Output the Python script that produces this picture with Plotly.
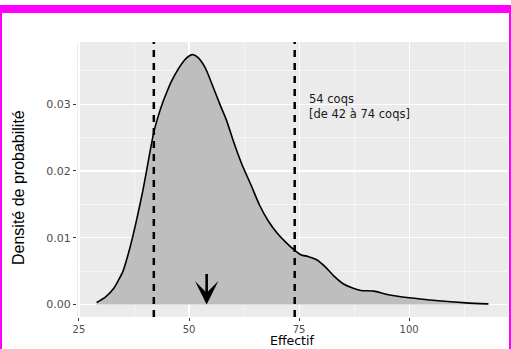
import plotly.graph_objects as go

# Density estimate
effectif = [29, 31, 33, 35, 36.5, 38, 39.5, 41, 42, 43, 44, 45, 46, 47.5, 49, 50, 51,
            52, 53, 54, 55.5, 57, 58.5, 60, 62, 64, 66, 68, 70, 72, 74, 75.5, 77, 79,
            81, 83, 85, 87, 89, 92, 95, 100, 106, 113, 118]
densite = [0.0003, 0.0011, 0.0025, 0.0050, 0.0083, 0.0124, 0.0170, 0.0224, 0.0258,
           0.0282, 0.0302, 0.0319, 0.0334, 0.0352, 0.0366, 0.0372, 0.0374, 0.0370,
           0.0362, 0.0350, 0.0325, 0.0300, 0.0276, 0.0246, 0.0210, 0.0180, 0.0149,
           0.0125, 0.0107, 0.0093, 0.0081, 0.0074, 0.0072, 0.0067, 0.0056, 0.0042,
           0.0031, 0.0025, 0.0021, 0.0020, 0.0015, 0.0010, 0.0006, 0.00025, 0.0001]

estimate = 54
ci_low = 42
ci_high = 74
x_ticks = [25, 50, 75, 100]
y_ticks = [0.00, 0.01, 0.02, 0.03]
y_tick_labels = ["0.00", "0.01", "0.02", "0.03"]
label_lines = ["54 coqs", "[de 42 à 74 coqs]"]
arrow_top = 0.0048

W, H = 511, 349
ml, mr, mt, mb = 77, 3, 42, 32
pw, ph = W - ml - mr, H - mt - mb


def px(xp):
    return (xp - ml) / pw


def py(yp):
    return (H - mb - yp) / ph


fig = go.Figure()
fig.add_trace(go.Scatter(
    x=effectif, y=densite, mode="lines",
    line=dict(color="black", width=1.6, shape="spline", smoothing=0.5),
    fill="tozeroy", fillcolor="#BEBEBE", hoverinfo="skip", showlegend=False))

for v in (ci_low, ci_high):
    fig.add_shape(type="line", xref="x", yref="paper", x0=v, x1=v, y0=0, y1=1,
                  line=dict(color="black", width=2.5, dash="7px,6px"), layer="above")

fig.add_annotation(x=estimate, y=0, ax=estimate, ay=arrow_top, xref="x", yref="y",
                   axref="x", ayref="y", showarrow=True, arrowhead=3, arrowsize=1.5,
                   arrowwidth=2.6, arrowcolor="black", standoff=0, text="")

fig.add_annotation(x=76.8, y=0.0296, xref="x", yref="y", xanchor="left",
                   yanchor="middle", align="left", showarrow=False,
                   text="<br>".join(label_lines),
                   font=dict(family="DejaVu Sans", size=11.5, color="#1a1a1a"))

# axis titles
fig.add_annotation(x=px(292), y=py(349), xref="paper", yref="paper", showarrow=False,
                   xanchor="center", yanchor="bottom", text="Effectif", borderpad=0,
                   font=dict(family="DejaVu Sans", size=12.5, color="black"))
fig.add_annotation(x=px(18), y=py(188), xref="paper", yref="paper", showarrow=False,
                   xanchor="center", yanchor="middle", text="Densité de probabilité",
                   textangle=-90,
                   font=dict(family="Liberation Sans Narrow, Liberation Sans, Arial",
                             size=16, color="black"))

# magenta frame
fig.add_shape(type="rect", xref="paper", yref="paper", x0=px(0), x1=px(W), y0=py(13), y1=py(5),
              fillcolor="#FF00FF", line=dict(width=0), layer="above")
fig.add_shape(type="rect", xref="paper", yref="paper", x0=px(0), x1=px(2), y0=py(H), y1=py(5),
              fillcolor="#FF00FF", line=dict(width=0), layer="above")
fig.add_shape(type="rect", xref="paper", yref="paper", x0=px(509), x1=px(W), y0=py(H), y1=py(5),
              fillcolor="#FF00FF", line=dict(width=0), layer="above")

fig.update_layout(
    width=W, height=H, margin=dict(l=ml, r=mr, t=mt, b=mb, autoexpand=False),
    paper_bgcolor="white", plot_bgcolor="#EBEBEB", showlegend=False,
    font=dict(family="DejaVu Sans", color="#4D4D4D"),
    xaxis=dict(range=[24.55, 122.45], tickvals=x_ticks, ticks="outside", ticklen=3,
               tickcolor="#333333", tickwidth=1, showgrid=True, gridcolor="white",
               gridwidth=1.2, zeroline=False, showline=False, automargin=False,
               ticklabelstandoff=0,
               tickfont=dict(family="DejaVu Sans", size=10, color="#4D4D4D"),
               minor=dict(dtick=12.5, tick0=25, showgrid=True, gridcolor="white", gridwidth=0.5)),
    yaxis=dict(range=[-0.00187, 0.0393], tickvals=y_ticks, ticktext=y_tick_labels,
               ticks="outside", ticklen=3, tickcolor="#333333", tickwidth=1,
               showgrid=True, gridcolor="white", gridwidth=1.2, zeroline=False,
               showline=False, automargin=False,
               tickfont=dict(family="DejaVu Sans", size=11, color="#4D4D4D"),
               minor=dict(dtick=0.005, tick0=0, showgrid=True, gridcolor="white", gridwidth=0.5)),
)

fig.write_html("out.html", config={"displayModeBar": False, "staticPlot": True},
               post_script="document.body.style.margin='0';")
